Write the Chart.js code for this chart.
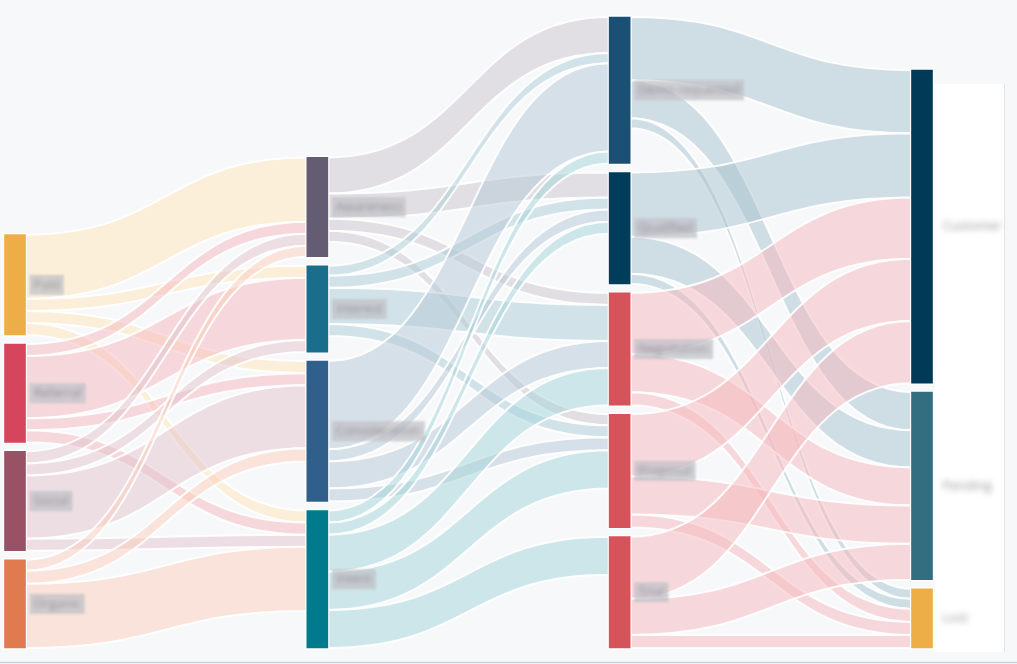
<!DOCTYPE html>
<html lang="en">
<head>
<meta charset="UTF-8">
<title>Pipeline flow</title>
<script src="https://cdn.jsdelivr.net/npm/chart.js"></script>
<style>
  html, body { margin: 0; padding: 0; background: #f7f8fa; }
  canvas { display: block; }
</style>
</head>
<body>
<canvas id="flowChart" width="1017" height="664"></canvas>
<script>
// nodes, top to bottom inside each column
const columns = [
  ['Paid', 'Referral', 'Social', 'Organic'],
  ['Awareness', 'Interest', 'Consideration', 'Intent'],
  ['Demo requested', 'Qualified', 'Negotiation', 'Proposal', 'Trial'],
  ['Customer', 'Pending', 'Lost']
];
const nodeColors = {
  'Paid': '#eeae47', 'Referral': '#d5455b', 'Social': '#9a5065', 'Organic': '#e07b50',
  'Awareness': '#635c72', 'Interest': '#1a6e8c', 'Consideration': '#2f5f8a', 'Intent': '#007a8c',
  'Demo requested': '#1b4f73', 'Qualified': '#003d5b', 'Negotiation': '#d5535a', 'Proposal': '#d5535a', 'Trial': '#d5535a',
  'Customer': '#003a57', 'Pending': '#336e80', 'Lost': '#eeae47'
};
const linkColors = {
  'Paid': 'rgba(255,230,184,0.5)', 'Referral': 'rgba(245,184,190,0.5)', 'Social': 'rgba(225,196,204,0.5)', 'Organic': 'rgba(251,206,186,0.5)',
  'Awareness': 'rgba(205,198,206,0.5)', 'Interest': 'rgba(171,206,216,0.5)', 'Consideration': 'rgba(181,200,214,0.5)', 'Intent': 'rgba(163,212,218,0.5)',
  'Demo requested': 'rgba(167,194,206,0.5)', 'Qualified': 'rgba(167,194,206,0.5)', 'Negotiation': 'rgba(245,184,190,0.5)', 'Proposal': 'rgba(245,184,190,0.5)', 'Trial': 'rgba(245,184,190,0.5)'
};

// flows: [from, to, value]
const stage1 = [
  ['Paid', 'Awareness', 64], ['Paid', 'Interest', 12], ['Paid', 'Consideration', 12], ['Paid', 'Intent', 12],
  ['Referral', 'Awareness', 12], ['Referral', 'Interest', 62], ['Referral', 'Consideration', 12], ['Referral', 'Intent', 12],
  ['Social', 'Awareness', 12], ['Social', 'Interest', 12], ['Social', 'Consideration', 63], ['Social', 'Intent', 12],
  ['Organic', 'Awareness', 11], ['Organic', 'Consideration', 13], ['Organic', 'Intent', 64]
];
const stage2 = [
  ['Awareness', 'Demo requested', 36], ['Awareness', 'Qualified', 25], ['Awareness', 'Negotiation', 12], ['Awareness', 'Proposal', 11],
  ['Interest', 'Demo requested', 10], ['Interest', 'Qualified', 12], ['Interest', 'Negotiation', 36], ['Interest', 'Proposal', 12],
  ['Consideration', 'Demo requested', 88], ['Consideration', 'Qualified', 12], ['Consideration', 'Negotiation', 27], ['Consideration', 'Proposal', 13],
  ['Intent', 'Demo requested', 12], ['Intent', 'Qualified', 12], ['Intent', 'Negotiation', 37], ['Intent', 'Proposal', 38], ['Intent', 'Trial', 38]
];
const stage3 = [
  ['Demo requested', 'Customer', 63], ['Demo requested', 'Pending', 38], ['Demo requested', 'Lost', 10],
  ['Qualified', 'Customer', 64], ['Qualified', 'Pending', 37], ['Qualified', 'Lost', 10],
  ['Negotiation', 'Customer', 61], ['Negotiation', 'Pending', 38], ['Negotiation', 'Lost', 13],
  ['Proposal', 'Customer', 62], ['Proposal', 'Pending', 38], ['Proposal', 'Lost', 13],
  ['Trial', 'Customer', 62], ['Trial', 'Pending', 36], ['Trial', 'Lost', 13]
];

const GAP = 9;
const NODE_W = 21;

// --- layout in value units (columns stacked from the bottom) ---
const links = [...stage1, ...stage2, ...stage3].map(([from, to, value]) => ({ from, to, value }));
const nodes = {};
columns.forEach((names, col) => names.forEach((name, i) => {
  nodes[name] = { name, col, order: i, inSum: 0, outSum: 0 };
}));
links.forEach(l => { nodes[l.from].outSum += l.value; nodes[l.to].inSum += l.value; });
let yMax = 0;
columns.forEach(names => {
  let y = 0;
  names.slice().reverse().forEach(name => {
    const n = nodes[name];
    n.value = Math.max(n.inSum, n.outSum);
    n.lo = y;
    n.hi = y + n.value;
    y = n.hi + GAP;
  });
  yMax = Math.max(yMax, y - GAP);
});
// stack link ends from the top of each node
columns.flat().forEach(name => {
  const n = nodes[name];
  let top = n.hi;
  links.filter(l => l.from === name)
    .sort((a, b) => nodes[a.to].order - nodes[b.to].order)
    .forEach(l => { l.y0 = top; top -= l.value; });
  top = n.hi;
  links.filter(l => l.to === name)
    .sort((a, b) => nodes[a.from].order - nodes[b.from].order)
    .forEach(l => { l.y1 = top; top -= l.value; });
});

const nodeList = columns.flat().map(name => nodes[name]);

const sankeyLinks = {
  id: 'sankeyLinks',
  beforeDatasetsDraw(chart) {
    const { ctx, scales: { x, y } } = chart;
    ctx.save();
    // white panel behind the last column labels
    ctx.fillStyle = '#ffffff';
    ctx.fillRect(935, 84, 70, 568);
    ctx.strokeStyle = '#e3e6ea';
    ctx.lineWidth = 1;
    ctx.beginPath();
    ctx.moveTo(1004.5, 84); ctx.lineTo(1004.5, 652);
    ctx.stroke();

    links.forEach(l => {
      const x0 = x.getPixelForValue(nodes[l.from].col) + NODE_W / 2;
      const x1 = x.getPixelForValue(nodes[l.to].col) - NODE_W / 2;
      const xm = (x0 + x1) / 2;
      const a0 = y.getPixelForValue(l.y0), b0 = y.getPixelForValue(l.y0 - l.value);
      const a1 = y.getPixelForValue(l.y1), b1 = y.getPixelForValue(l.y1 - l.value);
      ctx.beginPath();
      ctx.moveTo(x0, a0);
      ctx.bezierCurveTo(xm, a0, xm, a1, x1, a1);
      ctx.lineTo(x1, b1);
      ctx.bezierCurveTo(xm, b1, xm, b0, x0, b0);
      ctx.closePath();
      ctx.fillStyle = linkColors[l.from];
      ctx.fill();
      ctx.strokeStyle = 'rgba(255,255,255,0.9)';
      ctx.lineWidth = 2;
      ctx.stroke();
    });
    // white rim around nodes
    ctx.fillStyle = '#ffffff';
    nodeList.forEach(n => {
      const cx = x.getPixelForValue(n.col);
      const t = y.getPixelForValue(n.hi), b = y.getPixelForValue(n.lo);
      ctx.fillRect(cx - NODE_W / 2 - 1.5, t - 1.5, NODE_W + 3, b - t + 3);
    });
    ctx.restore();
  },
  afterDatasetsDraw(chart) {
    const { ctx, scales: { x, y } } = chart;
    ctx.save();
    ctx.font = '13px "Open Sans", sans-serif';
    ctx.textBaseline = 'middle';
    nodeList.forEach(n => {
      const cx = x.getPixelForValue(n.col);
      const mid = y.getPixelForValue((n.lo + n.hi) / 2);
      const lx = cx + NODE_W / 2 + 4;
      const w = ctx.measureText(n.name).width + 8;
      if (n.col < 3) {
        ctx.filter = 'blur(1px)';
        ctx.fillStyle = 'rgba(196,196,202,0.75)';
        ctx.fillRect(lx, mid - 10, w, 20);
        ctx.filter = 'blur(2.5px)';
        ctx.fillStyle = 'rgba(120,120,128,0.75)';
        ctx.fillText(n.name, lx + 4, mid);
      } else {
        ctx.filter = 'blur(3px)';
        ctx.fillStyle = 'rgba(120,120,128,0.8)';
        ctx.fillText(n.name, lx + 6, mid);
      }
    });
    ctx.filter = 'none';
    ctx.strokeStyle = '#c7d1dd';
    ctx.lineWidth = 1.5;
    ctx.beginPath();
    ctx.moveTo(0, 662.5); ctx.lineTo(1017, 662.5);
    ctx.stroke();
    ctx.restore();
  }
};

const ctx = document.getElementById('flowChart').getContext('2d');
const flowChart = new Chart(ctx, {
  type: 'bar',
  data: {
    datasets: [{
      label: 'Nodes',
      data: nodeList.map(n => ({ x: n.col, y: [n.lo, n.hi] })),
      backgroundColor: nodeList.map(n => nodeColors[n.name]),
      borderWidth: 0,
      barThickness: NODE_W,
      clip: false
    }]
  },
  options: {
    responsive: false,
    animation: false,
    layout: { padding: { left: 15, right: 95, top: 17, bottom: 16 } },
    scales: {
      x: { type: 'linear', min: 0, max: 3, offset: false, display: false },
      y: { min: 0, max: yMax, display: false }
    },
    plugins: {
      legend: { display: false },
      tooltip: { enabled: false }
    }
  },
  plugins: [sankeyLinks]
});
</script>
</body>
</html>
